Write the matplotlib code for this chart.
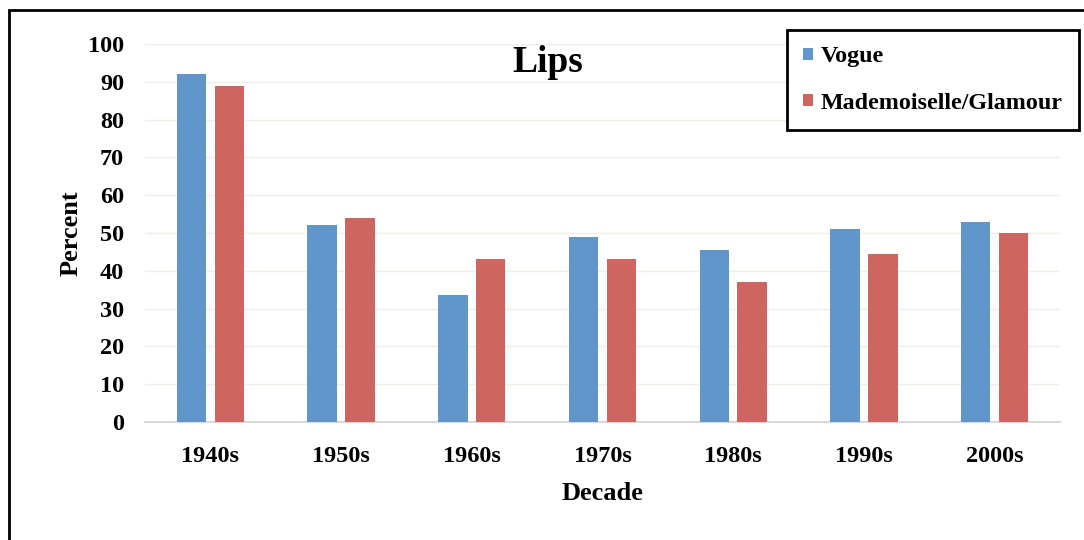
import numpy as np
import matplotlib.pyplot as plt
from matplotlib.patches import Rectangle

# data
decades = ['1940s', '1950s', '1960s', '1970s', '1980s', '1990s', '2000s']
vogue = [92, 52, 33.5, 49, 45.5, 51, 53]
mademoiselle = [89, 54, 43, 43, 37, 44.5, 50]
series_names = ['Vogue', 'Mademoiselle/Glamour']

blue = '#6196CA'
red = '#CD6660'

plt.rcParams['font.family'] = ['Liberation Serif', 'DejaVu Serif']
plt.rcParams['font.weight'] = 'bold'

fig = plt.figure(figsize=(10.84, 5.4), dpi=100)
ax = fig.add_axes([145 / 1084, 1 - 422 / 540, (1060 - 145) / 1084, (422 - 44) / 540])

x = np.arange(len(decades))
w = 0.225
off = 0.145
ax.bar(x - off, vogue, w, color=blue, label=series_names[0], zorder=3)
ax.bar(x + off, mademoiselle, w, color=red, label=series_names[1], zorder=3)

ax.set_xlim(-0.5, len(decades) - 0.5)
ax.set_ylim(0, 100)
ax.set_yticks(range(0, 101, 10))
ax.set_xticks(x)
ax.set_xticklabels(decades)
ax.tick_params(axis='both', length=0, labelsize=17.5)
ax.tick_params(axis='x', pad=17)
ax.tick_params(axis='y', pad=15)
for lbl in ax.get_xticklabels() + ax.get_yticklabels():
    lbl.set_fontweight('bold')

ax.grid(axis='y', color='#EEEEE4', linewidth=1, zorder=0)
for s in ['top', 'right', 'left']:
    ax.spines[s].set_visible(False)
ax.spines['bottom'].set_color('#D9D9D9')
ax.spines['bottom'].set_linewidth(1.5)

ax.set_ylabel('Percent', fontsize=19, fontweight='bold', labelpad=4)
ax.set_xlabel('Decade', fontsize=19, fontweight='bold', labelpad=11)
fig.text(548 / 1084, 1 - 62 / 540, 'Lips', fontsize=27, fontweight='bold',
         ha='center', va='center')

leg = ax.legend(loc='upper left', bbox_to_anchor=((787 - 145) / (1060 - 145), (422 - 30) / 378),
                frameon=True, fancybox=False, framealpha=1, handlelength=0.42,
                handleheight=0.42, handletextpad=0.3, labelspacing=1.05,
                borderpad=0.68, borderaxespad=0,
                prop={'weight': 'bold', 'size': 17.3})
leg.get_frame().set_edgecolor('black')
leg.get_frame().set_linewidth(2)
leg.set_zorder(5)

# outer frame, cut off at right and bottom like the reference
fig.patches.append(Rectangle((9 / 1084, -0.05), 1.2, 1 - 10 / 540 + 0.05,
                             transform=fig.transFigure, fill=False,
                             edgecolor='black', linewidth=2))

plt.savefig('out.png', dpi=100)
